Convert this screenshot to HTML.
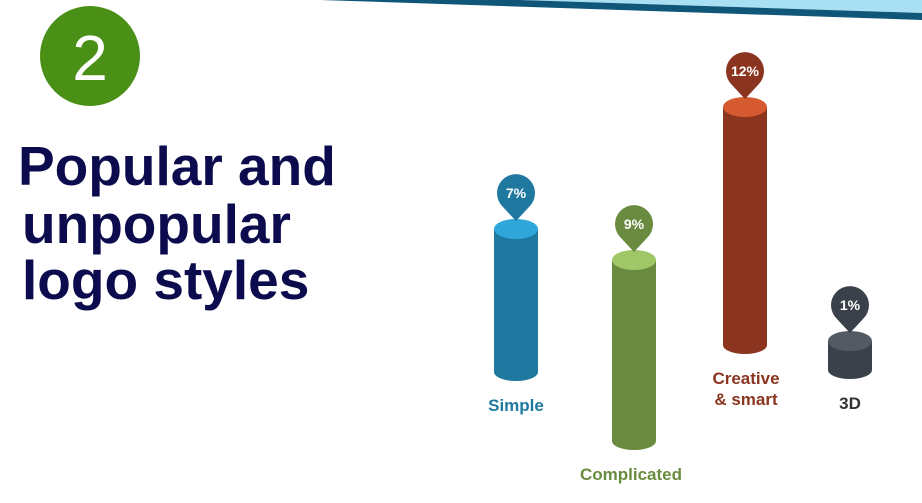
<!DOCTYPE html>
<html><head><meta charset="utf-8"><style>
html,body{margin:0;padding:0;background:#fff;}
svg{display:block;}
</style></head><body>
<svg width="922" height="503" viewBox="0 0 922 503" xmlns="http://www.w3.org/2000/svg">
  <polygon points="520,0 922,0 922,13" fill="#a9dff2"/>
  <polygon points="320,0 520,0 922,13 922,20" fill="#0f5678"/>
  <circle cx="90" cy="56" r="50" fill="#4a8f16"/>
  <text x="90" y="80" text-anchor="middle" font-family="Liberation Sans, sans-serif" font-size="64" fill="#fff">2</text>
  <g font-family="Liberation Sans, sans-serif" font-size="55" font-weight="bold" fill="#0b0b4d">
    <text x="18" y="185">Popular and</text>
    <text x="22" y="243">unpopular</text>
    <text x="22" y="299">logo styles</text>
  </g>
  <g id="bars"></g>
</svg>
<script>
const categories = ["Simple","Complicated","Creative & smart","3D"];
const values = [7, 9, 12, 1];
const printed = ["7%","9%","12%","1%"];
const centers = [516, 634, 745, 850];
const bottoms = [372, 441, 345, 370];
const sideColors = ["#1e78a0","#6a8a40","#8b3520","#3b414a"];
const topColors = ["#2ea6d9","#9fc767","#d65a30","#535a64"];
const labelColors = ["#1f7aa0","#6a8c3e","#8b3520","#333333"];
const labelY = [[411],[480],[384,405],[409]];
const labelLines = [["Simple"],["Complicated"],["Creative","& smart"],["3D"]];
const pxPerUnit = 19;
const baseHeight = 10;
function yTop(i){ return bottoms[i] - baseHeight - values[i]*pxPerUnit; }
const NS = "http://www.w3.org/2000/svg";
const g = document.getElementById('bars');
function mk(tag, attrs){ const e=document.createElementNS(NS,tag); for(const k in attrs) e.setAttribute(k,attrs[k]); g.appendChild(e); return e; }
const w = 22, ry = 9;
values.forEach((v,i)=>{
  const cx = centers[i], top = yTop(i), bot = bottoms[i];
  const side = mk('path',{d:`M${cx-w},${top} L${cx-w},${bot} A${w},${ry} 0 0 0 ${cx+w},${bot} L${cx+w},${top} Z`, fill:sideColors[i]});
  
  
  const cap = mk('ellipse',{cx:cx, cy:top, rx:w, ry:ry+1, fill:topColors[i]});
  
  
  const py = top - 36, r = 19;
  const pin = mk('path',{d:`M${cx},${top-8} L${cx-13},${py+14} A${r},${r} 0 1 1 ${cx+13},${py+14} Z`, fill:sideColors[i]});
  
  
  const t = mk('text',{x:cx, y:py+5, 'text-anchor':'middle', 'font-family':'Liberation Sans, sans-serif', 'font-weight':'bold', 'font-size':'14', fill:'#fff'});
  t.textContent = printed[i];
  
  
  labelLines[i].forEach((ln,j)=>{
    const l = mk('text',{x:cx-(i==1?3:(i==2?-1:0)), y:labelY[i][j], 'text-anchor':'middle', 'font-family':'Liberation Sans, sans-serif', 'font-weight':'bold', 'font-size':'17', fill:labelColors[i]});
    l.textContent = ln;
    
    
  });
});
</script>
</body></html>
